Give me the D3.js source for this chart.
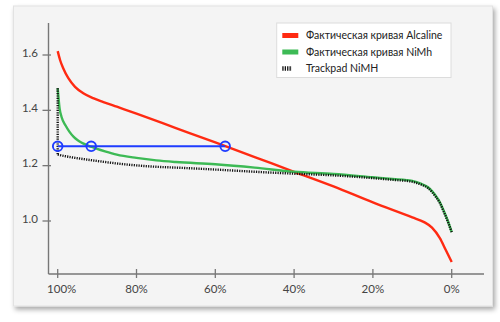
<!DOCTYPE html>
<html>
<head>
<meta charset="utf-8">
<script src="https://cdn.jsdelivr.net/npm/d3@7"></script>
<style>
  html, body { margin: 0; padding: 0; background: #fff; }
  svg { display: block; }
  text { font-family: Lato, "Open Sans", sans-serif; }
</style>
</head>
<body>
<svg id="chart" width="500" height="322"></svg>
<script>
// Discharge curves: remaining capacity (%) vs. cell voltage (V)
const xTicks = [100, 80, 60, 40, 20, 0];
const yTicks = [1.0, 1.2, 1.4, 1.6];

const alkalinePct = [100, 99.4, 98.6, 97.3, 95.6, 93.5, 91, 88.4, 85, 80, 70, 60, 50, 40, 30, 20, 10, 7, 5, 3, 1.5, 0];
const alkalineV   = [1.614, 1.582, 1.552, 1.516, 1.485, 1.462, 1.444, 1.430, 1.413, 1.388, 1.336, 1.284, 1.231, 1.178, 1.125, 1.067, 1.013, 0.996, 0.976, 0.938, 0.895, 0.852];

const nimhPct = [100, 99.5, 99, 98, 97, 96, 95, 94, 93, 92, 91, 90, 88, 85, 80, 75, 70, 60, 50, 40, 30, 20, 15, 10, 8, 6, 5, 4, 3, 2, 1, 0];
const nimhV   = [1.480, 1.405, 1.375, 1.345, 1.322, 1.305, 1.293, 1.284, 1.277, 1.271, 1.266, 1.261, 1.252, 1.240, 1.228, 1.219, 1.213, 1.205, 1.193, 1.178, 1.170, 1.158, 1.152, 1.145, 1.136, 1.122, 1.108, 1.090, 1.068, 1.036, 1.001, 0.960];

const trackpadPct = [100, 100, 98, 95, 90, 85, 80, 75, 70, 60, 50, 40, 30, 20, 15, 10, 8, 6, 5, 4, 3, 2, 1, 0];
const trackpadV   = [1.480, 1.240, 1.234, 1.227, 1.217, 1.208, 1.201, 1.196, 1.193, 1.186, 1.178, 1.171, 1.165, 1.155, 1.149, 1.142, 1.133, 1.119, 1.105, 1.087, 1.065, 1.033, 0.998, 0.960];

// Marker line at a fixed voltage, with the points where each curve reaches it
const markerV = 1.27;
const markerPct = [100, 91.5, 57.5];

const legendLabels = ["Фактическая кривая Alcaline", "Фактическая кривая NiMh", "Trackpad NiMH"];
const colors = { alkaline: "#ff2a12", nimh: "#3dba55", trackpad: "#111", marker: "#1e3cff" };

const svg = d3.select("#chart");

// card with drop shadow
const defs = svg.append("defs");
const f = defs.append("filter").attr("id", "shadow").attr("x", "-5%").attr("y", "-5%").attr("width", "112%").attr("height", "115%");
f.append("feDropShadow").attr("dx", 2).attr("dy", 3).attr("stdDeviation", 2.5)
  .attr("flood-color", "#000").attr("flood-opacity", 0.35);

svg.append("rect")
  .attr("x", 13.5).attr("y", 6).attr("width", 479).attr("height", 300)
  .attr("fill", "#f4f4f4").attr("stroke", "#e2e2e2").attr("stroke-width", 1)
  .attr("filter", "url(#shadow)");

const x = d3.scaleLinear().domain([100, 0]).range([57.7, 451.7]);
const y = d3.scaleLinear().domain([1.0, 1.6]).range([221, 55]);

const axisColor = "#777";
const axisLeft = 48.5, axisBottom = 274;

// axes lines
svg.append("line").attr("x1", axisLeft).attr("x2", axisLeft).attr("y1", 23).attr("y2", axisBottom)
  .attr("stroke", axisColor).attr("stroke-width", 1.4);
svg.append("line").attr("x1", axisLeft).attr("x2", 484).attr("y1", axisBottom).attr("y2", axisBottom)
  .attr("stroke", axisColor).attr("stroke-width", 1.4);

// y ticks
const yg = svg.append("g");
yTicks.forEach(t => {
  yg.append("line").attr("x1", axisLeft - 6).attr("x2", axisLeft + 2.5)
    .attr("y1", y(t)).attr("y2", y(t)).attr("stroke", axisColor).attr("stroke-width", 1.3);
  yg.append("text").attr("x", 38).attr("y", y(t) - 2.5).attr("dy", "0.35em")
    .attr("text-anchor", "end").attr("font-size", 11.5).attr("fill", "#444")
    .text(d3.format(".1f")(t));
});

// x ticks
const xg = svg.append("g");
xTicks.forEach((t, i) => {
  xg.append("line").attr("x1", x(t)).attr("x2", x(t))
    .attr("y1", axisBottom - 5).attr("y2", axisBottom + 4).attr("stroke", axisColor).attr("stroke-width", 1.3);
  xg.append("text").attr("x", x(t) + (i === 0 ? 4 : 0)).attr("y", 288.5).attr("dy", "0.35em")
    .attr("text-anchor", "middle").attr("font-size", 11.5).attr("fill", "#444")
    .text(t + "%");
});

const line = d3.line().x(d => x(d[0])).y(d => y(d[1])).curve(d3.curveMonotoneX);
const straight = d3.line().x(d => x(d[0])).y(d => y(d[1]));
const zip = (a, b) => a.map((v, i) => [v, b[i]]);

const alkaline = zip(alkalinePct, alkalineV);
const nimh = zip(nimhPct, nimhV);
const trackpad = zip(trackpadPct, trackpadV);

svg.append("path").attr("d", line(alkaline)).attr("fill", "none")
  .attr("stroke", colors.alkaline).attr("stroke-width", 2.4);
svg.append("path").attr("d", line(nimh)).attr("fill", "none")
  .attr("stroke", colors.nimh).attr("stroke-width", 2.4);

// trackpad curve: vertical drop at full charge, then the smooth discharge
const dotted = { fill: "none", stroke: colors.trackpad, "stroke-width": 2.4, "stroke-dasharray": "1.2,1.2" };
const tp1 = svg.append("path").attr("d", straight(trackpad.slice(0, 2)));
const tp2 = svg.append("path").attr("d", line(trackpad.slice(1)));
[tp1, tp2].forEach(p => Object.entries(dotted).forEach(([k, v]) => p.attr(k, v)));

// voltage marker
svg.append("line")
  .attr("x1", x(markerPct[0])).attr("x2", x(markerPct[markerPct.length - 1]))
  .attr("y1", y(markerV)).attr("y2", y(markerV))
  .attr("stroke", colors.marker).attr("stroke-width", 2);
svg.selectAll("circle.mk").data(markerPct).join("circle").attr("class", "mk")
  .attr("cx", d => x(d)).attr("cy", y(markerV)).attr("r", 4.8)
  .attr("fill", "none").attr("stroke", colors.marker).attr("stroke-width", 1.9);

// legend
const lg = svg.append("g");
lg.append("rect").attr("x", 276.7).attr("y", 23).attr("width", 174.3).attr("height", 54.5)
  .attr("fill", "#fff").attr("stroke", "#dcdcdc").attr("stroke-width", 1);
const rowsY = [35.5, 52, 68.5];
lg.append("rect").attr("x", 282.3).attr("y", rowsY[0] - 2.5).attr("width", 16).attr("height", 5).attr("fill", colors.alkaline);
lg.append("rect").attr("x", 282.3).attr("y", rowsY[1] - 2.5).attr("width", 16).attr("height", 5).attr("fill", colors.nimh);
lg.append("line").attr("x1", 282.3).attr("x2", 292).attr("y1", rowsY[2]).attr("y2", rowsY[2])
  .attr("stroke", colors.trackpad).attr("stroke-width", 4.5).attr("stroke-dasharray", "1.3,1.1");
legendLabels.forEach((t, i) => {
  lg.append("text").attr("x", 306).attr("y", rowsY[i]).attr("dy", "0.35em")
    .attr("font-size", 10.5).attr("fill", "#222").text(t);
});
</script>
</body>
</html>
